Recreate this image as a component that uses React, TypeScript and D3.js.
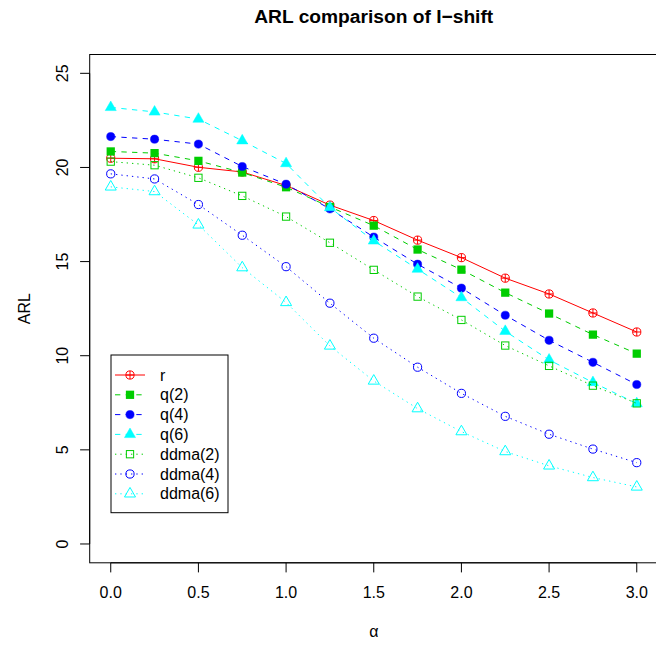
import React from "react";
import * as d3 from "d3";

// ---- data ----
const alpha = [0, 0.25, 0.5, 0.75, 1.0, 1.25, 1.5, 1.75, 2.0, 2.25, 2.5, 2.75, 3.0];
const seriesNames = ["r", "q(2)", "q(4)", "q(6)", "ddma(2)", "ddma(4)", "ddma(6)"];
const rVals = [20.49, 20.46, 20.01, 19.76, 19.04, 18.0, 17.18, 16.14, 15.21, 14.12, 13.28, 12.27, 11.26];
const q2Vals = [20.85, 20.76, 20.35, 19.73, 18.95, 17.9, 16.91, 15.64, 14.57, 13.35, 12.24, 11.12, 10.11];
const q4Vals = [21.64, 21.5, 21.24, 20.05, 19.11, 17.8, 16.3, 14.86, 13.59, 12.15, 10.82, 9.65, 8.47];
const q6Vals = [23.19, 22.95, 22.57, 21.42, 20.21, 17.87, 16.1, 14.6, 13.09, 11.3, 9.78, 8.58, 7.46];
const ddma2Vals = [20.31, 20.12, 19.45, 18.49, 17.39, 16.0, 14.56, 13.14, 11.9, 10.54, 9.46, 8.41, 7.47];
const ddma4Vals = [19.66, 19.39, 18.03, 16.4, 14.73, 12.79, 10.93, 9.39, 8.0, 6.78, 5.83, 5.04, 4.32];
const ddma6Vals = [18.97, 18.72, 16.95, 14.68, 12.83, 10.52, 8.66, 7.19, 5.97, 4.91, 4.15, 3.53, 3.03];
const xTicks = [0, 0.5, 1.0, 1.5, 2.0, 2.5, 3.0];
const yTicks = [0, 5, 10, 15, 20, 25];
const title = "ARL comparison of I\u2212shift";
const xLabel = "\u03b1";
const yLabel = "ARL";

// ---- styles ----
const colors = ["#FF0000", "#00CD00", "#0000FF", "#00FFFF", "#00CD00", "#0000FF", "#00FFFF"];
const dashes = ["none", "5.33,5.33", "5.33,5.33", "5.33,5.33", "1.33,4", "1.33,4", "1.33,4"];
const shapes = ["circlePlus", "fsquare", "fcircle", "ftriangle", "osquare", "ocircle", "otriangle"];
const allVals = [rVals, q2Vals, q4Vals, q6Vals, ddma2Vals, ddma4Vals, ddma6Vals];

const W = 656;
const H = 648;
const FONT = "'Liberation Sans', Arial, Helvetica, sans-serif";
const R = 4.1;

function Marker({ x, y, shape, color }: { x: number; y: number; shape: string; color: string }) {
  const sq = R * 0.8862;
  const tTop = R * 1.5551;
  const tHalfW = R * 1.3468;
  const tBot = R * 0.7776;
  const tri = `M${x},${y - tTop}L${x + tHalfW},${y + tBot}L${x - tHalfW},${y + tBot}Z`;
  switch (shape) {
    case "circlePlus":
      return (
        <g stroke={color} fill="none" strokeWidth={1}>
          <circle cx={x} cy={y} r={R} />
          <path d={`M${x - R},${y}H${x + R}M${x},${y - R}V${y + R}`} />
        </g>
      );
    case "fsquare":
      return <rect x={x - sq - 0.5} y={y - sq - 0.5} width={2 * sq + 1} height={2 * sq + 1} fill={color} />;
    case "fcircle":
      return <circle cx={x} cy={y} r={R} fill={color} stroke={color} strokeWidth={0.5} />;
    case "ftriangle":
      return <path d={tri} fill={color} stroke={color} strokeWidth={0.5} />;
    case "osquare":
      return <rect x={x - sq} y={y - sq} width={2 * sq} height={2 * sq} fill="none" stroke={color} strokeWidth={1} />;
    case "ocircle":
      return <circle cx={x} cy={y} r={R} fill="none" stroke={color} strokeWidth={1} />;
    case "otriangle":
      return <path d={tri} fill="none" stroke={color} strokeWidth={1} />;
    default:
      return null;
  }
}

export default function App() {
  const left = 89.7;
  const right = 657.8;
  const top = 54.5;
  const bottom = 562.8;

  const x = d3.scaleLinear().domain([-0.12, 3.12]).range([left, right]);
  const y = d3.scaleLinear().domain([-1, 26]).range([bottom, top]);

  const line = d3
    .line<number>()
    .x((_, i) => x(alpha[i]))
    .y((v) => y(v));

  const series = seriesNames.map((name, i) => ({
    name,
    values: allVals[i],
    color: colors[i],
    dash: dashes[i],
    shape: shapes[i],
  }));

  // legend layout
  const lgX0 = 111;
  const lgY0 = 355;
  const lgW = 117;
  const lgH = 157.7;
  const rowY0 = 375;
  const rowStep = 19.8;

  return (
    <svg
      width={W}
      height={H}
      style={{ position: "fixed", left: 0, top: 0, background: "#fff" }}
      fontFamily={FONT}
    >
      <rect x={0} y={0} width={W} height={H} fill="#fff" />
      {/* title */}
      <text x={(left + right) / 2} y={23} textAnchor="middle" fontWeight="bold" fontSize={19.2} fill="#000">
        {title}
      </text>

      {/* series */}
      {series.map((s) => (
        <g key={s.name}>
          <path
            d={line(s.values) || ""}
            fill="none"
            stroke={s.color}
            strokeWidth={1}
            strokeDasharray={s.dash}
          />
          {s.values.map((v, i) => (
            <Marker key={i} x={x(alpha[i])} y={y(v)} shape={s.shape} color={s.color} />
          ))}
        </g>
      ))}

      {/* box */}
      <rect x={left} y={top} width={right - left} height={bottom - top} fill="none" stroke="#000" strokeWidth={1} />

      {/* x axis */}
      <g>
        <line x1={x(xTicks[0])} x2={x(xTicks[xTicks.length - 1])} y1={bottom} y2={bottom} stroke="#000" />
        {xTicks.map((t) => (
          <g key={t}>
            <line x1={x(t)} x2={x(t)} y1={bottom} y2={bottom + 9.6} stroke="#000" />
            <text x={x(t)} y={598.4} textAnchor="middle" fontSize={16} fill="#000">
              {d3.format(".1f")(t)}
            </text>
          </g>
        ))}
        <text x={(left + right) / 2} y={636.5} textAnchor="middle" fontSize={16} fill="#000">
          {xLabel}
        </text>
      </g>

      {/* y axis */}
      <g>
        <line x1={left} x2={left} y1={y(yTicks[0])} y2={y(yTicks[yTicks.length - 1])} stroke="#000" />
        {yTicks.map((t) => (
          <g key={t}>
            <line x1={left - 9.6} x2={left} y1={y(t)} y2={y(t)} stroke="#000" />
            <text
              transform={`translate(${67.7},${y(t)}) rotate(-90)`}
              textAnchor="middle"
              fontSize={16}
              fill="#000"
            >
              {String(t)}
            </text>
          </g>
        ))}
        <text
          transform={`translate(${29.5},${(top + bottom) / 2}) rotate(-90)`}
          textAnchor="middle"
          fontSize={16}
          fill="#000"
        >
          {yLabel}
        </text>
      </g>

      {/* legend */}
      <g>
        <rect x={lgX0} y={lgY0} width={lgW} height={lgH} fill="#fff" stroke="#000" strokeWidth={1} />
        {series.map((s, i) => {
          const ry = rowY0 + i * rowStep;
          return (
            <g key={s.name}>
              <line x1={115} x2={145} y1={ry} y2={ry} stroke={s.color} strokeWidth={1} strokeDasharray={s.dash} />
              <Marker x={130} y={ry} shape={s.shape} color={s.color} />
              <text x={160} y={ry + 5.6} fontSize={16} fill="#000">
                {s.name}
              </text>
            </g>
          );
        })}
      </g>
    </svg>
  );
}
